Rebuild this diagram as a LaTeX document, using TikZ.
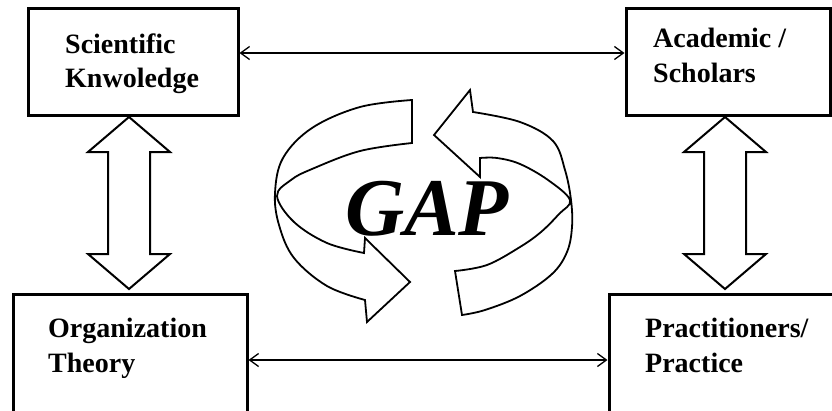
\documentclass[tikz,border=0pt]{standalone}
\usepackage{fontspec}
\setmainfont{Liberation Serif}
\usetikzlibrary{arrows.meta}
\begin{document}
\begin{tikzpicture}[x=1pt,y=-1pt,
  box/.style={draw, line width=3pt, rectangle, inner sep=0pt},
  lbl/.style={anchor=base west, inner sep=0pt, font=\bfseries\fontsize{28}{34}\selectfont},
  link/.style={line width=1.3pt, {Straight Barb[length=9pt,width=13pt]}-{Straight Barb[length=9pt,width=13pt]}},
  blockarrow/.style={draw, line width=2pt, fill=white, line join=miter},
  ribbon/.style={draw, line width=1.8pt, fill=white, line join=miter}]
\useasboundingbox (0,0) rectangle (832,410);
\clip (0,0) rectangle (832,410);

% boxes
\node[box, minimum width=210pt, minimum height=107pt] (sk) at (133,61.5) {};
\node[box, minimum width=204pt, minimum height=107pt] (ac) at (728,61.5) {};
\node[box, minimum width=234pt, minimum height=140pt] (ot) at (130,364) {};
\node[box, minimum width=250pt, minimum height=140pt] (pp) at (734,364) {};

% labels
\node[lbl] (sk1) at (65,53) {Scientific};
\node[lbl] (sk2) at (65,87) {Knwoledge};
\node[lbl] (ac1) at (653,47) {Academic /};
\node[lbl] (ac2) at (653,82) {Scholars};
\node[lbl] (ot1) at (48,337) {Organization};
\node[lbl] (ot2) at (48,372) {Theory};
\node[lbl] (pp1) at (645,337) {Practitioners/};
\node[lbl] (pp2) at (645,372) {Practice};

% horizontal connectors
\draw[link] ([yshift=8.5pt]sk.east) -- ([yshift=8.5pt]ac.west);
\draw[link] ([yshift=4pt]ot.east) -- ([yshift=4pt]pp.west);

% vertical block double arrows
\draw[blockarrow] (129,117) -- (170,152) -- (150,152) -- (150,254) -- (170,254) -- (129,289)
  -- (88,254) -- (108,254) -- (108,152) -- (88,152) -- cycle;
\draw[blockarrow] (725,117) -- (766,152) -- (746,152) -- (746,254) -- (766,254) -- (725,289)
  -- (684,254) -- (704,254) -- (704,152) -- (684,152) -- cycle;

% cycle ribbons
\draw[ribbon] plot[smooth, tension=0.6] coordinates {(412,100) (360,107) (312,128) (283,158) (275,193) (279,225) (294,258) (327,286) (365,300)}
  -- (367,322) -- (410,282) -- (365,238) -- (364,253)
  -- plot[smooth, tension=0.6] coordinates {(364,253) (327,243) (294,222) (277,196) (291,180) (312,169) (360,151) (412,143)}
  -- cycle;
\draw[ribbon] plot[smooth, tension=0.6] coordinates {(473,112) (520,122) (553,141) (565,170) (571,200) (572,227) (567,252) (552,274) (520,296) (485,310) (462,315)}
  -- (455,271)
  -- plot[smooth, tension=0.6] coordinates {(455,271) (487,265) (520,247) (541,232) (559,214) (570,200) (548,180) (520,164) (497,158) (480,158)}
  -- (480,177) -- (434,135) -- (470,90) -- cycle;

\node[font=\bfseries\itshape\fontsize{82}{82}\selectfont, anchor=base, inner sep=0pt] (gap) at (427,235) {GAP};
\end{tikzpicture}
\end{document}
